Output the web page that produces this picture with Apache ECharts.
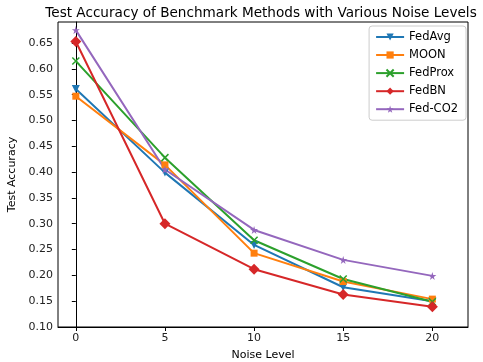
<!DOCTYPE html>
<html>
<head>
<meta charset="utf-8">
<script src="https://cdn.jsdelivr.net/npm/echarts@6/dist/echarts.min.js"></script>
<style>
  html, body { margin: 0; padding: 0; background: #fff; }
  #chart { width: 483px; height: 362px; }
</style>
</head>
<body>
<div id="chart"></div>
<script>
const noiseLevels = [0, 5, 10, 15, 20];
const fedAvg = [0.561, 0.399, 0.259, 0.177, 0.150];
const moon = [0.547, 0.414, 0.243, 0.188, 0.154];
const fedProx = [0.615, 0.428, 0.268, 0.193, 0.149];
const fedBN = [0.653, 0.300, 0.212, 0.163, 0.139];
const fedCO2 = [0.675, 0.405, 0.288, 0.230, 0.199];
const yTicks = [0.10, 0.15, 0.20, 0.25, 0.30, 0.35, 0.40, 0.45, 0.50, 0.55, 0.60, 0.65];

const FONT = "DejaVu Sans";
const X_PATH = "path://M0,0L2,2M2,0L0,2";
const STAR_PATH = "path://M50,0L61,35L98,35L68,57L79,91L50,70L21,91L32,57L2,35L39,35Z";

const chart = echarts.init(document.getElementById("chart"));

function mk(name, vals, color, symbol, size, extra) {
  return Object.assign({
    name: name,
    type: "line",
    data: noiseLevels.map((x, i) => [x, vals[i]]),
    symbol: symbol,
    symbolSize: size,
    showAllSymbol: true,
    lineStyle: { color: color, width: 2 },
    itemStyle: { color: color, borderColor: color, borderWidth: 0 },
    emphasis: { disabled: true },
    animation: false,
  }, extra || {});
}

const option = {
  animation: false,
  textStyle: { fontFamily: FONT },
  title: {
    text: "Test Accuracy of Benchmark Methods with Various Noise Levels",
    left: 256, top: 1, textAlign: "center",
    textStyle: { fontFamily: FONT, fontSize: 13.6, fontWeight: "normal", color: "#000" },
  },
  grid: {
    left: 58, right: 15, top: 22, bottom: 35,
    containLabel: false, outerBoundsMode: "none",
    show: true, borderColor: "#000", borderWidth: 1,
  },
  legend: {
    orient: "vertical",
    right: 17, top: 26,
    backgroundColor: "#fff",
    borderColor: "#ccc", borderWidth: 1, borderRadius: 3,
    padding: [5, 8, 5, 6],
    itemGap: 6,
    itemWidth: 28, itemHeight: 9,
    textStyle: { fontFamily: FONT, fontSize: 11.5, color: "#000" },
    data: ["FedAvg", "MOON", "FedProx", "FedBN", "Fed-CO2"],
  },
  xAxis: {
    type: "value",
    min: -1, max: 22,
    name: "Noise Level", nameLocation: "middle", nameGap: 23,
    nameTextStyle: { fontFamily: FONT, fontSize: 11, color: "#000" },
    axisLine: { show: true, lineStyle: { color: "#000" } },
    axisTick: { show: true, length: 4, customValues: noiseLevels, lineStyle: { color: "#000" } },
    axisLabel: { customValues: noiseLevels, fontSize: 11, color: "#222", margin: 6 },
    splitLine: { show: false },
  },
  yAxis: {
    type: "value",
    min: 0.10, max: 0.6907,
    name: "Test Accuracy", nameLocation: "middle", nameGap: 40, nameRotate: 90,
    nameTextStyle: { fontFamily: FONT, fontSize: 11, color: "#000" },
    axisLine: { show: true, lineStyle: { color: "#000" } },
    axisTick: { show: true, length: 4, customValues: yTicks, lineStyle: { color: "#000" } },
    axisLabel: {
      customValues: yTicks, fontSize: 11, color: "#222", margin: 5,
      formatter: (v) => v.toFixed(2),
    },
    splitLine: { show: false },
  },
  series: [
    mk("FedAvg", fedAvg, "#1f77b4", "triangle", 8, { symbolRotate: 180 }),
    mk("MOON", moon, "#ff7f0e", "rect", 7),
    mk("FedProx", fedProx, "#2ca02c", X_PATH, 7, {
      itemStyle: { color: "none", borderColor: "#2ca02c", borderWidth: 1.5 },
    }),
    mk("FedBN", fedBN, "#d62728", "diamond", 11),
    mk("Fed-CO2", fedCO2, "#9467bd", STAR_PATH, 8),
  ],
};

chart.setOption(option);
</script>
</body>
</html>
